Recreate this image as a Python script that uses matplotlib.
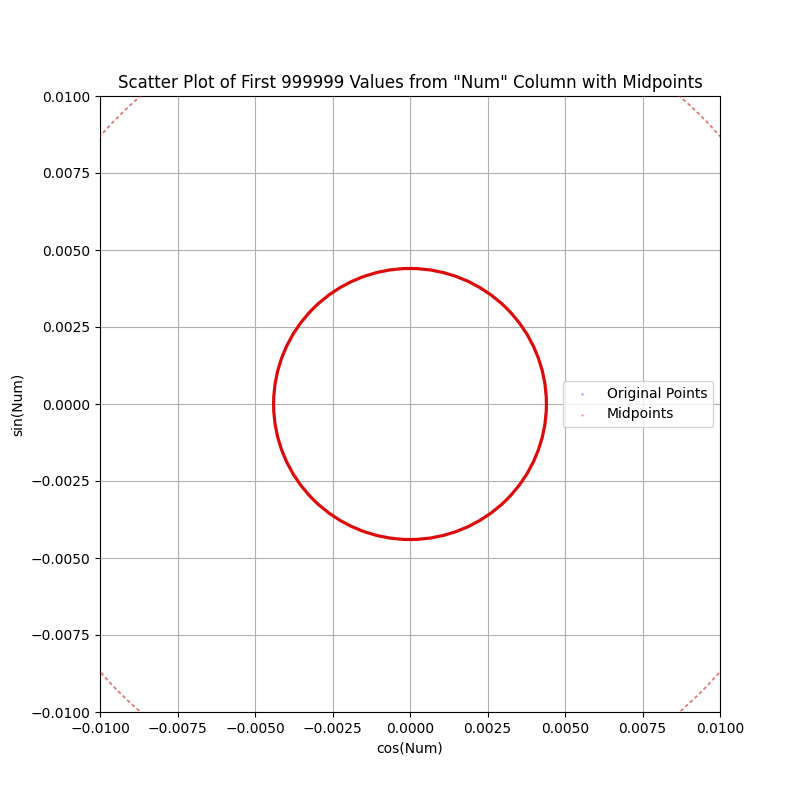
import matplotlib
matplotlib.use('Agg')
import matplotlib.pyplot as plt
from matplotlib.patches import Circle, Arc

title = 'Scatter Plot of First 999999 Values from "Num" Column with Midpoints'
x_label = 'cos(Num)'
y_label = 'sin(Num)'
series_labels = ['Original Points', 'Midpoints']
series_colors = ['blue', 'red']

# Midpoint ring (dense, reads as a solid circle) and the sparse outer midpoint ring
ring_center = (0.0, 0.0)
inner_ring_radius = 0.0044
outer_ring_radius = 0.01325

axis_limits = (-0.01, 0.01)
ticks = [-0.01, -0.0075, -0.005, -0.0025, 0.0, 0.0025, 0.005, 0.0075, 0.01]

fig, ax = plt.subplots(figsize=(8, 8), dpi=100)

ax.add_patch(Circle(ring_center, inner_ring_radius, fill=False,
                    edgecolor='#dc0c0c', lw=2.3, zorder=3))
ax.add_patch(Arc(ring_center, 2 * outer_ring_radius, 2 * outer_ring_radius,
                 theta1=0, theta2=360, edgecolor='#d02020', lw=1.3,
                 alpha=0.6, linestyle=(0, (2, 1.5)), zorder=3))

for lab, col in zip(series_labels, series_colors):
    ax.scatter([], [], s=0.4, c=col, alpha=0.4, label=lab)

ax.set_xlim(*axis_limits)
ax.set_ylim(*axis_limits)
ax.set_xticks(ticks)
ax.set_yticks(ticks)
ax.set_title(title)
ax.set_xlabel(x_label)
ax.set_ylabel(y_label)
ax.grid(True)
ax.legend(loc='center right')

fig.savefig('out.png', dpi=100)
